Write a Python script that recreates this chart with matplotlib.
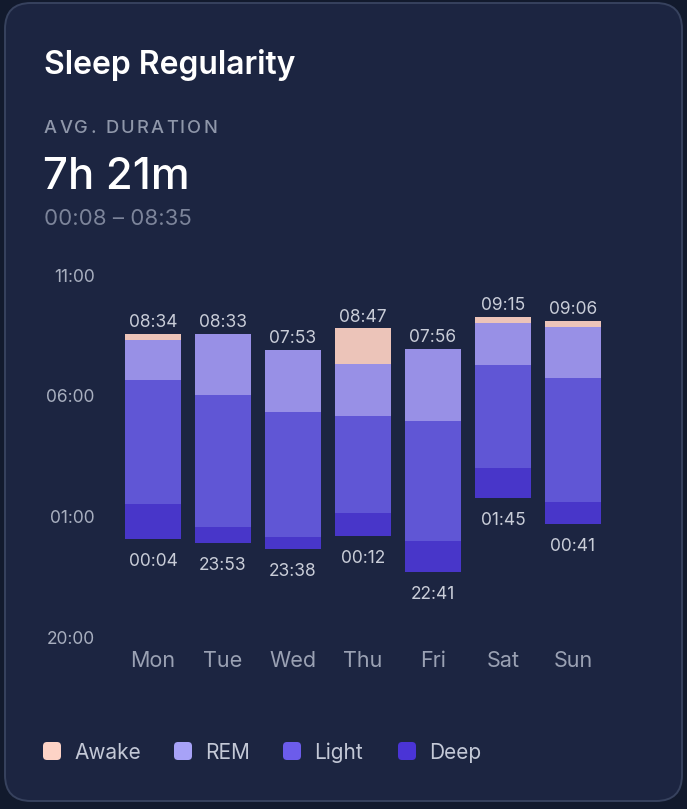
import matplotlib
matplotlib.use("Agg")
import matplotlib.pyplot as plt
from matplotlib.patches import FancyBboxPatch
import numpy as np

days = ["Mon", "Tue", "Wed", "Thu", "Fri", "Sat", "Sun"]
bed_times = ["00:04", "23:53", "23:38", "00:12", "22:41", "01:45", "00:41"]
wake_times = ["08:34", "08:33", "07:53", "08:47", "07:56", "09:15", "09:06"]
# minutes in each stage, stacked upwards from bedtime
deep_min = [87, 41, 30, 57, 78, 76, 54]
light_min = [307, 328, 311, 241, 298, 256, 310]
rem_min = [100, 151, 154, 128, 179, 103, 125]
awake_min = [16, 0, 0, 89, 0, 15, 16]

stage_names = ["Awake", "REM", "Light", "Deep"]
bar_colors = {"Awake": "#ecc4b9", "REM": "#9890e6", "Light": "#6056d5", "Deep": "#4836c9"}
key_colors = {"Awake": "#fdd3c6", "REM": "#a7a2f7", "Light": "#6c5ceb", "Deep": "#4a34d6"}

ytick_labels = ["20:00", "01:00", "06:00", "11:00"]
title = "Sleep Regularity"
avg_label = "AVG. DURATION"
avg_value = "7h 21m"
avg_window = "00:08 \u2013 08:35"

W, H = 687, 809
FONT = ["Inter", "DejaVu Sans"]
plt.rcParams["font.family"] = FONT


def hours_from_20(t):
    h, m = t.split(":")
    return (int(h) + int(m) / 60 - 20) % 24


fig = plt.figure(figsize=(W / 100, H / 100), dpi=100)
fig.patch.set_facecolor("#121a2d")

# background layer in pixel coordinates
bg = fig.add_axes([0, 0, 1, 1], zorder=0)
bg.set_xlim(0, W)
bg.set_ylim(H, 0)
bg.axis("off")
card = FancyBboxPatch((5, 3), 677, 798, boxstyle="round,pad=0,rounding_size=26",
                      facecolor="#1c2541", edgecolor="#37425e", linewidth=1.4)
bg.add_patch(card)

bg.text(44, 74, title, color="white", fontsize=23, fontweight="semibold", va="baseline")
bg.text(43, 189, avg_value, color="white", fontsize=31.5, fontweight="medium", va="baseline")
bg.text(44, 225, avg_window, color="#7c849a", fontsize=16, va="baseline")

# spaced-out caps label, letter by letter
renderer = fig.canvas.get_renderer()
cx = 44
for ch in avg_label:
    t = bg.text(cx, 133, ch, color="#8f97aa", fontsize=13.2, fontweight="medium", va="baseline")
    if ch == " ":
        adv = 5
    else:
        adv = t.get_window_extent(renderer).width
    cx += adv + 2.2

# legend
lx = [43, 174, 283, 398]
for name, x in zip(stage_names, lx):
    sq = FancyBboxPatch((x, 742), 18, 18, boxstyle="round,pad=0,rounding_size=4",
                        facecolor=key_colors[name], edgecolor="none")
    bg.add_patch(sq)
    bg.text(x + 31, 751, name, color="#c3c8d6", fontsize=15, va="center_baseline")

# chart axes: x data 0 at px 153, 70 px per day; y 0 (20:00) at px 637, 15 h at px 275
x_left, x_right = 100, 640
ax = fig.add_axes([x_left / W, (H - 637) / H, (x_right - x_left) / W, (637 - 275) / H], zorder=1)
ax.set_xlim((x_left - 153) / 70, (x_right - 153) / 70)
ax.set_ylim(0, 15)
ax.patch.set_alpha(0)
for s in ax.spines.values():
    s.set_visible(False)

x = np.arange(len(days))
bed = np.array([hours_from_20(t) for t in bed_times])
stacks = {"Deep": deep_min, "Light": light_min, "REM": rem_min, "Awake": awake_min}
bottom = bed.copy()
for name in ["Deep", "Light", "REM", "Awake"]:
    vals = np.array(stacks[name]) / 60
    ax.bar(x, vals, bottom=bottom, width=0.786, color=bar_colors[name], linewidth=0)
    bottom = bottom + vals

for i in range(len(days)):
    ax.annotate(wake_times[i], (x[i], bottom[i]), xytext=(0, 5), textcoords="offset points",
                ha="center", va="baseline", color="#c9cdd8", fontsize=12.5)
    ax.annotate(bed_times[i], (x[i], bed[i]), xytext=(0, -10), textcoords="offset points",
                ha="center", va="top", color="#c9cdd8", fontsize=12.5)

ax.set_xticks(x, days)
ax.set_yticks([hours_from_20(t) for t in ytick_labels], ytick_labels)
ax.tick_params(axis="x", length=0, pad=10, labelsize=15.5, labelcolor="#9aa1b3")
ax.tick_params(axis="y", length=0, pad=4, labelsize=12.5, labelcolor="#a8afbf")

fig.savefig("out.png", dpi=100, facecolor=fig.get_facecolor())
